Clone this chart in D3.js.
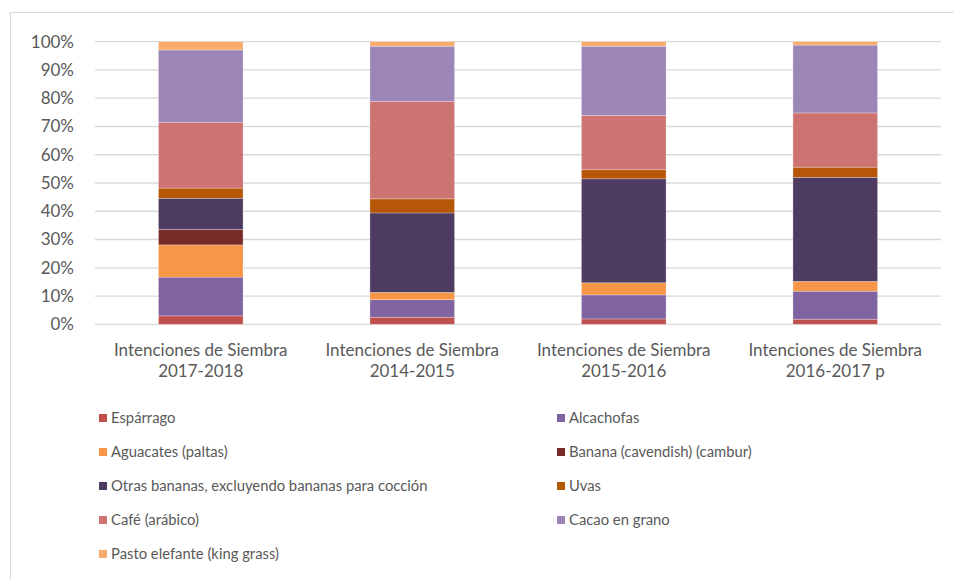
<!DOCTYPE html>
<html>
<head>
<meta charset="utf-8">
<script src="https://cdn.jsdelivr.net/npm/d3@7"></script>
<style>
  html, body { margin: 0; padding: 0; background: #fff; }
  svg { display: block; font-family: Lato, "Liberation Sans", sans-serif; }
</style>
</head>
<body>
<svg id="chart" width="954" height="579"></svg>
<script>
// ---- data ----
const categories = [
  ["Intenciones de Siembra", "2017-2018"],
  ["Intenciones de Siembra", "2014-2015"],
  ["Intenciones de Siembra", "2015-2016"],
  ["Intenciones de Siembra", "2016-2017 p"]
];
const seriesNames = [
  "Espárrago",
  "Alcachofas",
  "Aguacates (paltas)",
  "Banana (cavendish) (cambur)",
  "Otras bananas, excluyendo bananas para cocción",
  "Uvas",
  "Café (arábico)",
  "Cacao en grano",
  "Pasto elefante (king grass)"
];
const seriesColors = ["#C0504D", "#8064A2", "#F79646", "#772C2A", "#4D3B62", "#B65708", "#CD7371", "#9C85B7", "#F9AB6B"];
// percent share per category (order follows categories)
const esparrago   = [3.0, 2.5, 1.9, 1.8];
const alcachofas  = [13.7, 6.2, 8.5, 9.9];
const aguacates   = [11.4, 2.6, 4.3, 3.5];
const banana      = [5.5, 0, 0, 0];
const otras       = [11.0, 28.1, 36.8, 36.8];
const uvas        = [3.6, 5.0, 3.2, 3.6];
const cafe        = [23.3, 34.5, 19.2, 19.2];
const cacao       = [25.6, 19.5, 24.5, 24.0];
const pasto       = [2.9, 1.6, 1.6, 1.2];
const yTicks = [0, 0.1, 0.2, 0.3, 0.4, 0.5, 0.6, 0.7, 0.8, 0.9, 1.0];

const seriesValues = [esparrago, alcachofas, aguacates, banana, otras, uvas, cafe, cacao, pasto];
const rows = categories.map((c, i) => {
  const r = { key: i };
  seriesNames.forEach((s, j) => r[s] = seriesValues[j][i]);
  return r;
});

const svg = d3.select("#chart");
const textColor = "#595959";

// outer chart border
svg.append("rect")
  .attr("x", 10.5).attr("y", 12.5)
  .attr("width", 1000).attr("height", 1000)
  .attr("fill", "none").attr("stroke", "#D9D9D9").attr("stroke-width", 1);

const plot = { left: 95, right: 941, top: 41.7, bottom: 324.3 };

const x = d3.scaleBand().domain(d3.range(categories.length))
  .range([plot.left, plot.right]).paddingInner(0.6).paddingOuter(0.3);
const y = d3.scaleLinear().domain([0, 1]).range([plot.bottom, plot.top]);

// gridlines
svg.append("g").selectAll("line").data(yTicks).join("line")
  .attr("x1", plot.left).attr("x2", plot.right)
  .attr("y1", d => y(d)).attr("y2", d => y(d))
  .attr("stroke", "#D9D9D9").attr("stroke-width", 1.3);

// y axis labels
const yAxis = d3.axisLeft(y).tickValues(yTicks).tickFormat(d3.format(".0%")).tickSize(0).tickPadding(0);
const yg = svg.append("g").attr("transform", `translate(74,0)`).call(yAxis);
yg.select(".domain").remove();
yg.selectAll("text").attr("fill", textColor).attr("font-size", 17).attr("font-family", "Lato, 'Liberation Sans', sans-serif");

// stacked bars
const stack = d3.stack().keys(seriesNames).offset(d3.stackOffsetExpand);
const stacked = stack(rows);
svg.append("g").selectAll("g").data(stacked).join("g")
  .attr("fill", (d, i) => seriesColors[i])
  .selectAll("rect").data(d => d).join("rect")
  .attr("x", d => x(d.data.key))
  .attr("width", x.bandwidth())
  .attr("y", d => y(d[1]))
  .attr("height", d => Math.max(0, y(d[0]) - y(d[1])))
  .attr("stroke", "#ffffff").attr("stroke-opacity", 0.35).attr("stroke-width", 0.75);

// x labels
const xl = svg.append("g").selectAll("text").data(categories).join("text")
  .attr("x", (d, i) => x(i) + x.bandwidth() / 2)
  .attr("y", 356)
  .attr("text-anchor", "middle")
  .attr("fill", textColor)
  .attr("font-size", 17);
xl.selectAll("tspan").data(d => d).join("tspan")
  .attr("x", function () { return d3.select(this.parentNode).attr("x"); })
  .attr("dy", (d, i) => i === 0 ? 0 : 21)
  .text(d => d);

// legend
const legendX = [99, 557];
const legendY = [418, 452, 486, 520, 554];
const lg = svg.append("g").selectAll("g").data(seriesNames).join("g")
  .attr("transform", (d, i) => `translate(${legendX[i % 2]},${legendY[Math.floor(i / 2)]})`);
lg.append("rect").attr("x", 0).attr("y", -4).attr("width", 8).attr("height", 8)
  .attr("fill", (d, i) => seriesColors[i]);
lg.append("text").attr("x", 12).attr("y", 0).attr("dy", "0.35em")
  .attr("fill", textColor).attr("font-size", 14.8).text(d => d);
</script>
</body>
</html>
